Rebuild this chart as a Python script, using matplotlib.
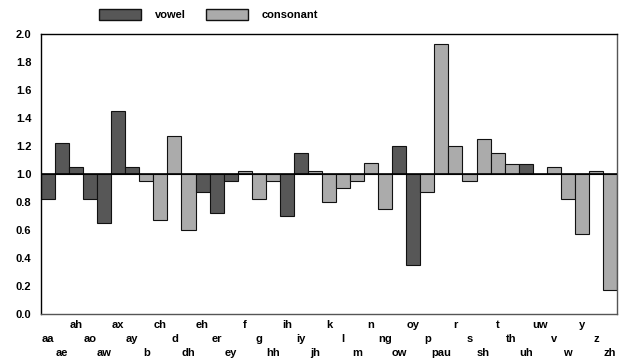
import matplotlib
matplotlib.use("Agg")
import matplotlib.pyplot as plt
from matplotlib.patches import Patch

plt.rcParams['font.family'] = ['Liberation Sans', 'DejaVu Sans']
plt.rcParams['font.weight'] = 'bold'

# phones in alphabetical order and their ratio values
phones = ['aa', 'ae', 'ah', 'ao', 'aw', 'ax', 'ay', 'b', 'ch', 'd', 'dh',
          'eh', 'er', 'ey', 'f', 'g', 'hh', 'ih', 'iy', 'jh', 'k', 'l',
          'm', 'n', 'ng', 'ow', 'oy', 'p', 'pau', 'r', 's', 'sh', 't',
          'th', 'uh', 'uw', 'v', 'w', 'y', 'z', 'zh']
ratios = [0.82, 1.22, 1.05, 0.82, 0.65, 1.45, 1.05, 0.95, 0.67, 1.27, 0.60,
          0.87, 0.72, 0.95, 1.02, 0.82, 0.95, 0.70, 1.15, 1.02, 0.80, 0.90,
          0.95, 1.08, 0.75, 1.20, 0.35, 0.87, 1.93, 1.20, 0.95, 1.25, 1.15,
          1.07, 1.07, 1.00, 1.05, 0.82, 0.57, 1.02, 0.17]
vowels = ['aa', 'ae', 'ah', 'ao', 'aw', 'ax', 'ay', 'eh', 'er', 'ey',
          'ih', 'iy', 'ow', 'oy', 'uh', 'uw']
yticks = [0.0, 0.2, 0.4, 0.6, 0.8, 1.0, 1.2, 1.4, 1.6, 1.8, 2.0]

dark = '#575757'
light = '#ababab'

fig = plt.figure(figsize=(6.3, 3.62), dpi=100)
ax = fig.add_axes([41 / 630, 1 - 314 / 362, 576 / 630, 280 / 362])

x = list(range(len(phones)))
colors = [dark if p in vowels else light for p in phones]
heights = [r - 1.0 for r in ratios]
ax.bar(x, heights, bottom=1.0, width=1.0, color=colors,
       edgecolor='#111111', linewidth=0.8, zorder=2)
ax.axhline(1.0, color='black', lw=1.2, zorder=3)

ax.set_xlim(-0.5, len(phones) - 0.5)
ax.set_ylim(0, 2.0)
ax.set_yticks(yticks)
ax.set_yticklabels(['%.1f' % v for v in yticks], fontsize=8, fontweight='bold')
ax.tick_params(axis='y', length=0, pad=7)
ax.set_xticks([])

for side in ['left', 'top']:
    ax.spines[side].set_color('black')
for side in ['right', 'bottom']:
    ax.spines[side].set_color('#555555')
for s in ax.spines.values():
    s.set_linewidth(1.0)

# staggered phone labels, three rows
offsets = [-18, -28, -8]
for i, p in enumerate(phones):
    ax.annotate(p, xy=(i, 0), xycoords=('data', 'axes fraction'),
                xytext=(0, offsets[i % 3]), textcoords='offset points',
                ha='center', va='center', fontsize=8, fontweight='bold')

handles = [Patch(facecolor=dark, edgecolor='#111111', label='vowel'),
           Patch(facecolor=light, edgecolor='#111111', label='consonant')]
fig.legend(handles=handles, loc='center', bbox_to_anchor=(208.5 / 630, 1 - 14.5 / 362),
           ncol=2, frameon=False, fontsize=8, handlelength=3.8, handleheight=1.1,
           handletextpad=1.2, columnspacing=1.8, borderpad=0)

fig.savefig('out.png', dpi=100)
